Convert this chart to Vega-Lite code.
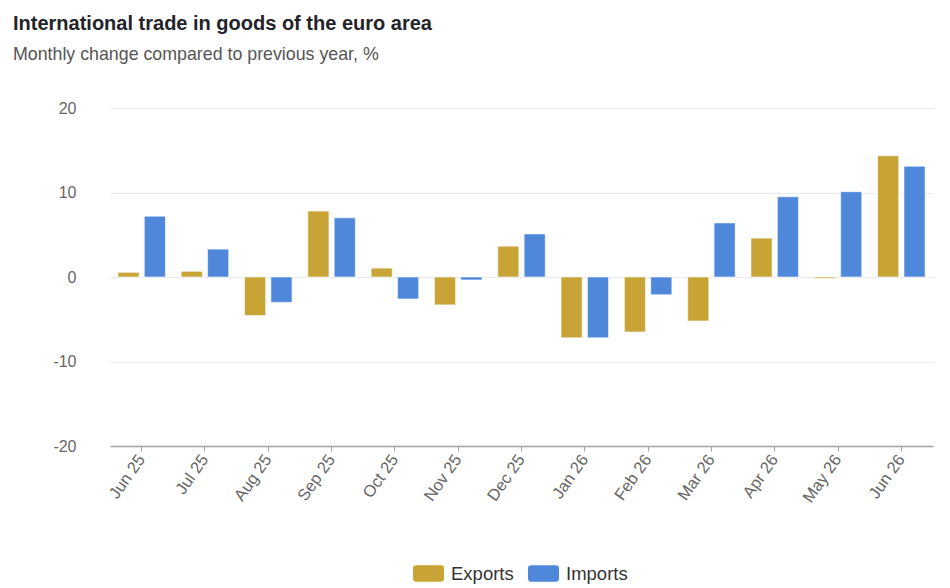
{
  "$schema": "https://vega.github.io/schema/vega-lite/v6.json",
  "autosize": "none",
  "width": 823,
  "height": 338,
  "padding": {"left": 110, "top": 108, "right": 17, "bottom": 142},
  "background": "white",
  "config": {"view": {"stroke": null}},
  "title": {
    "text": "International trade in goods of the euro area",
    "subtitle": "Monthly change compared to previous year, %",
    "anchor": "start",
    "frame": "group",
    "dx": -97,
    "offset": 36,
    "font": "Liberation Sans",
    "fontSize": 20,
    "fontWeight": "bold",
    "color": "#23242a",
    "subtitleFont": "Liberation Sans",
    "subtitleFontSize": 17.8,
    "subtitleColor": "#555555",
    "subtitlePadding": 12
  },
  "data": {
    "values": [
      {"month": "Jun 25", "series": "Exports", "value": 0.55},
      {"month": "Jun 25", "series": "Imports", "value": 7.2},
      {"month": "Jul 25", "series": "Exports", "value": 0.67},
      {"month": "Jul 25", "series": "Imports", "value": 3.3},
      {"month": "Aug 25", "series": "Exports", "value": -4.55},
      {"month": "Aug 25", "series": "Imports", "value": -3.0},
      {"month": "Sep 25", "series": "Exports", "value": 7.8},
      {"month": "Sep 25", "series": "Imports", "value": 7.0},
      {"month": "Oct 25", "series": "Exports", "value": 1.05},
      {"month": "Oct 25", "series": "Imports", "value": -2.6},
      {"month": "Nov 25", "series": "Exports", "value": -3.3},
      {"month": "Nov 25", "series": "Imports", "value": -0.35},
      {"month": "Dec 25", "series": "Exports", "value": 3.65},
      {"month": "Dec 25", "series": "Imports", "value": 5.1},
      {"month": "Jan 26", "series": "Exports", "value": -7.2},
      {"month": "Jan 26", "series": "Imports", "value": -7.2},
      {"month": "Feb 26", "series": "Exports", "value": -6.5},
      {"month": "Feb 26", "series": "Imports", "value": -2.1},
      {"month": "Mar 26", "series": "Exports", "value": -5.2},
      {"month": "Mar 26", "series": "Imports", "value": 6.4},
      {"month": "Apr 26", "series": "Exports", "value": 4.6},
      {"month": "Apr 26", "series": "Imports", "value": 9.5},
      {"month": "May 26", "series": "Exports", "value": -0.15},
      {"month": "May 26", "series": "Imports", "value": 10.1},
      {"month": "Jun 26", "series": "Exports", "value": 14.35},
      {"month": "Jun 26", "series": "Imports", "value": 13.1}
    ]
  },
  "mark": {"type": "bar", "stroke": "#ffffff", "strokeWidth": 0.8, "strokeOpacity": 0.7},
  "encoding": {
    "x": {
      "field": "month",
      "type": "nominal",
      "sort": ["Jun 25", "Jul 25", "Aug 25", "Sep 25", "Oct 25", "Nov 25", "Dec 25", "Jan 26", "Feb 26", "Mar 26", "Apr 26", "May 26", "Jun 26"],
      "scale": {"paddingInner": 0.25, "paddingOuter": 0.125},
      "axis": {
        "title": null,
        "labelAngle": -55,
        "labelFont": "Liberation Sans",
        "labelFontSize": 16.5,
        "labelColor": "#666666",
        "labelPadding": 5,
        "domainColor": "#a0a3a8",
        "domainWidth": 1.5,
        "tickColor": "#a0a3a8",
        "tickSize": 5,
        "grid": false
      }
    },
    "xOffset": {
      "field": "series",
      "type": "nominal",
      "sort": ["Exports", "Imports"],
      "scale": {"paddingInner": 0.2}
    },
    "y": {
      "field": "value",
      "type": "quantitative",
      "scale": {"domain": [-20, 20], "nice": false},
      "axis": {
        "title": null,
        "values": [-20, -10, 0, 10, 20],
        "labelExpr": "datum.value < 0 ? '-' + abs(datum.value) : '' + datum.value",
        "domain": false,
        "ticks": false,
        "labelPadding": 34,
        "labelFont": "Liberation Sans",
        "labelFontSize": 16,
        "labelColor": "#666666",
        "gridColor": "#e6e9f2",
        "gridWidth": 1
      }
    },
    "color": {
      "field": "series",
      "type": "nominal",
      "sort": ["Exports", "Imports"],
      "scale": {"domain": ["Exports", "Imports"], "range": ["#c8a437", "#4f88db"]},
      "legend": {
        "title": null,
        "orient": "none",
        "legendX": 303,
        "legendY": 450,
        "direction": "horizontal",
        "symbolType": "M-0.8,-0.53H0.8Q1,-0.53 1,-0.33V0.33Q1,0.53 0.8,0.53H-0.8Q-1,0.53 -1,0.33V-0.33Q-1,-0.53 -0.8,-0.53Z",
        "symbolSize": 961,
        "symbolStrokeWidth": 0,
        "labelFont": "Liberation Sans",
        "labelFontSize": 18.5,
        "labelColor": "#333333",
        "labelOffset": 7,
        "columnPadding": 14
      }
    }
  }
}
